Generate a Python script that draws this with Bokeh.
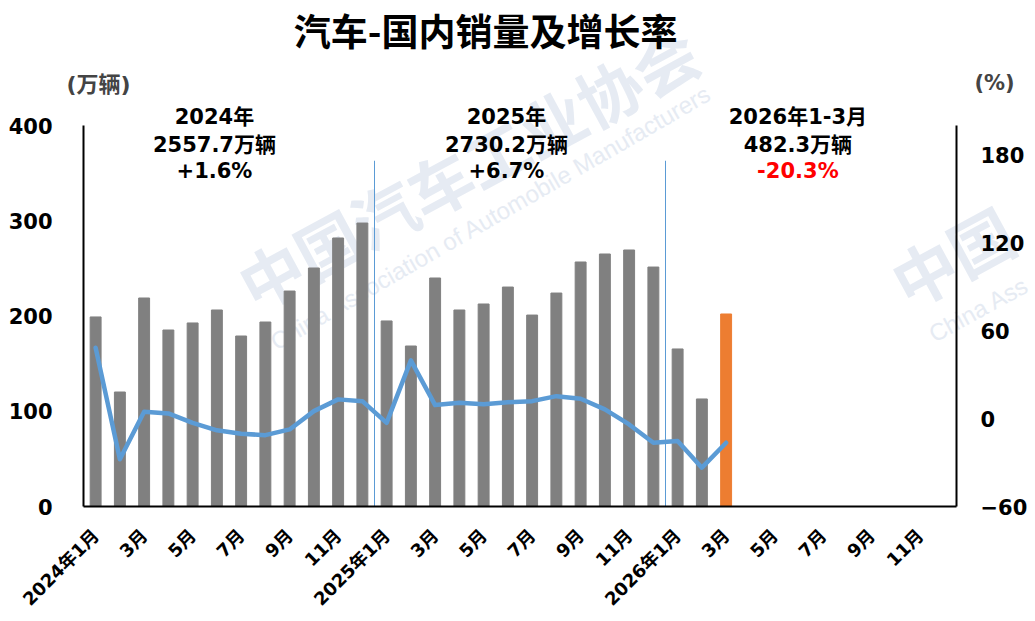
import math
from bokeh.plotting import figure
from bokeh.models import Range1d, LinearAxis, FixedTicker, Label, ColumnDataSource
from bokeh.embed import file_html
from bokeh.resources import INLINE

# ---------------- data ----------------
months = ["2024年1月", "2月", "3月", "4月", "5月", "6月", "7月", "8月", "9月", "10月", "11月", "12月",
          "2025年1月", "2月", "3月", "4月", "5月", "6月", "7月", "8月", "9月", "10月", "11月", "12月",
          "2026年1月", "2月", "3月", "4月", "5月", "6月", "7月", "8月", "9月", "10月", "11月", "12月"]

# domestic sales (万辆)
sales = [199.0, 120.2, 218.9, 185.3, 192.7, 206.3, 179.0, 193.7, 226.2, 250.4, 281.9, 297.6,
         194.8, 168.5, 239.9, 206.3, 212.6, 230.4, 201.0, 224.1, 256.7, 265.1, 269.3, 251.4,
         165.4, 112.9, 202.1]

# year-on-year growth (%)
growth = [48.3, -27.8, 4.6, 3.5, -2.9, -8.0, -10.4, -11.3, -7.4, 5.1, 13.1, 11.9,
          -2.9, 39.7, 9.2, 10.8, 9.7, 11.2, 11.9, 15.3, 13.5, 6.3, -4.0, -16.5,
          -15.3, -33.5, -16.5]

year_titles = ["2024年", "2025年", "2026年1-3月"]
year_totals = ["2557.7万辆", "2730.2万辆", "482.3万辆"]
year_growth = ["+1.6%", "+6.7%", "-20.3%"]

left_ticks = [0, 100, 200, 300, 400]
right_ticks = [-60, 0, 60, 120, 180]

# ---------------- styling / layout ----------------
FONT = "DejaVu Sans, Noto Sans CJK SC"
CJK = "Noto Sans CJK SC"
GRAY = "#808080"
ORANGE = "#ED7D31"
BLUE = "#5B9BD5"
WM = "#E6EBF3"

W, H = 1035, 620
FX0, FX1 = 83, 956      # plot-area left/right in figure px
FY0, FY1 = 125, 506     # plot-area top/bottom in figure px

n = len(months)
L_MIN, L_MAX = 0, 400
R_MIN, R_MAX = -60, 200

xpx = (FX1 - FX0) / n
ypx = (FY1 - FY0) / (L_MAX - L_MIN)
x_start = -0.5 - FX0 / xpx
x_end = n - 0.5 + (W - FX1) / xpx
y_start = L_MIN - (H - FY1) / ypx
y_end = L_MAX + FY0 / ypx
k = (R_MAX - R_MIN) / (L_MAX - L_MIN)
r_start = R_MIN + (y_start - L_MIN) * k
r_end = R_MIN + (y_end - L_MIN) * k

idx = list(range(len(sales)))
bar_colors = [GRAY] * (len(sales) - 1) + [ORANGE]

p = figure(width=W, height=H, output_backend="svg", toolbar_location=None,
           x_range=Range1d(x_start, x_end), y_range=Range1d(y_start, y_end))
p.min_border = 0
p.min_border_left = 0
p.min_border_right = 0
p.min_border_top = 0
p.min_border_bottom = 0
p.outline_line_color = None
p.grid.visible = False
p.background_fill_color = "white"
p.border_fill_color = "white"
p.extra_y_ranges = {"pct": Range1d(r_start, r_end)}

# watermark (underlay)
wm_specs = [
    ("中国汽车工业协会", 6.05, 228.6, 0.497, "64px", "bold", CJK),
    ("China Association of Automobile Manufacturers", 7.29, 171, 0.524, "24px", "normal", "Liberation Sans"),
    ("中国", 32.98, 232, 0.497, "64px", "bold", CJK),
    ("China Ass", 34.43, 179.5, 0.50, "24px", "normal", "Liberation Sans"),
]
for t, x, y, a, fs, st, fn in wm_specs:
    p.add_layout(Label(x=x, y=y, text=t, angle=a, text_font=fn, text_font_size=fs,
                       text_font_style=st, text_color=WM, text_align="left",
                       text_baseline="middle", level="underlay"))

src = ColumnDataSource(dict(x=idx, sales=sales, growth=growth, color=bar_colors))

p.vbar(x="x", top="sales", width=0.45, color="color", source=src)

# year separators
p.segment(x0=[11.5, 23.5], y0=[0, 0], x1=[11.5, 23.5], y1=[363, 363],
          line_color=BLUE, line_width=1)

p.line(x="x", y="growth", source=src, y_range_name="pct", line_color=BLUE,
       line_width=4.5, line_join="round", line_cap="round")

# axes (fixed at the plot-area edges)
def style_axis(ax):
    ax.axis_line_color = "black"
    ax.axis_line_width = 2
    ax.major_tick_line_color = None
    ax.minor_tick_line_color = None
    ax.major_tick_out = 0
    ax.major_tick_in = 0
    ax.minor_tick_out = 0
    ax.minor_tick_in = 0
    ax.major_label_text_font = FONT
    ax.major_label_text_font_style = "bold"
    ax.major_label_text_color = "black"

ya = p.yaxis[0]
ya.ticker = FixedTicker(ticks=left_ticks)
ya.fixed_location = -0.5
ya.bounds = (L_MIN, L_MAX)
style_axis(ya)
ya.major_label_text_font_size = "21px"
ya.major_label_standoff = 31

ra = LinearAxis(y_range_name="pct", ticker=FixedTicker(ticks=right_ticks),
                fixed_location=n - 0.5, bounds=(R_MIN, R_MAX))
style_axis(ra)
ra.major_label_text_font_size = "21px"
ra.major_label_standoff = 24
p.add_layout(ra, "right")

xa = p.xaxis[0]
xa.ticker = FixedTicker(ticks=list(range(0, n, 2)))
xa.major_label_overrides = {i: months[i] for i in range(0, n, 2)}
xa.fixed_location = 0
xa.bounds = (-0.5, n - 0.5)
style_axis(xa)
xa.major_label_text_font_size = "18px"
xa.major_label_orientation = math.pi / 4
xa.major_label_standoff = 26

# title and unit labels
p.add_layout(Label(x=16.08, y=500, text="汽车-国内销量及增长率", text_font=CJK,
                   text_font_size="37px", text_font_style="bold", text_align="center",
                   text_baseline="middle", text_color="black"))
p.add_layout(Label(x=0.12, y=443, text="(万辆)", text_font=FONT, text_font_size="22px",
                   text_font_style="bold", text_align="center", text_baseline="middle"))
p.add_layout(Label(x=37.07, y=445, text="(%)", text_font=FONT, text_font_size="21px",
                   text_font_style="bold", text_align="center", text_baseline="middle"))

# year summary blocks
block_x = [4.9, 16.94, 28.96]
for i in range(3):
    for j, (t, yv) in enumerate([(year_titles[i], 409), (year_totals[i], 380), (year_growth[i], 352)]):
        col = "#FF0000" if (j == 2 and year_growth[i].startswith("-")) else "black"
        p.add_layout(Label(x=block_x[i], y=yv, text=t, text_font=FONT, text_font_size="21px",
                           text_font_style="bold", text_align="center", text_baseline="middle",
                           text_color=col))

open("out.html", "w").write(file_html(p, INLINE))
